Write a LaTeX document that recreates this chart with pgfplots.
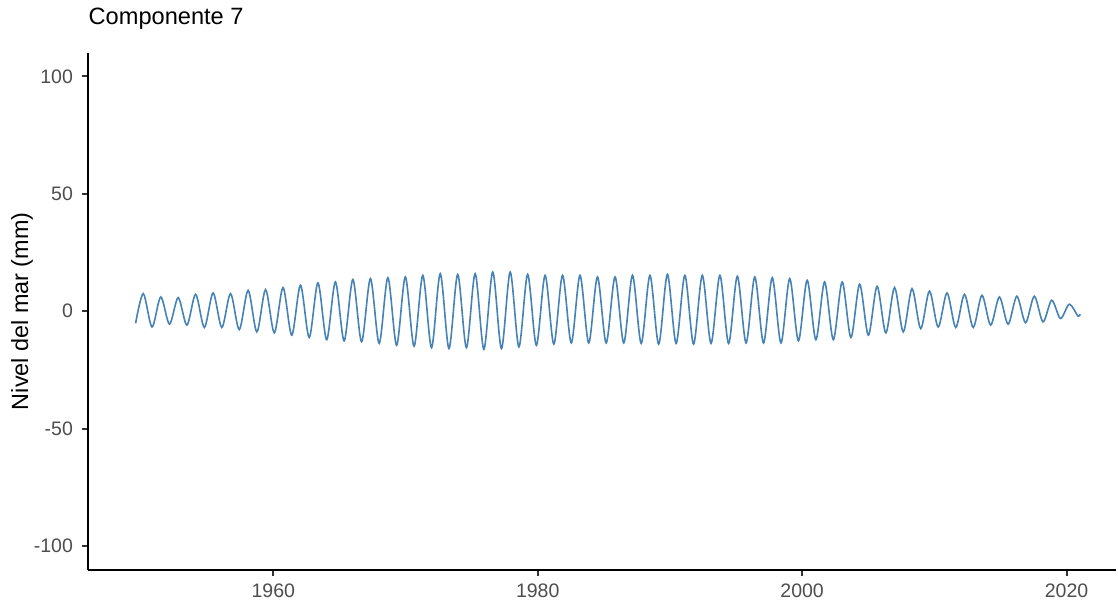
\documentclass[border=0pt]{standalone}
\usepackage{fontspec}
\setmainfont{Liberation Sans}
\usepackage{pgfplots}
\pgfplotsset{compat=1.18}
\definecolor{steel}{HTML}{4682B4}
\definecolor{gray30}{HTML}{4D4D4D}
\definecolor{gray20}{HTML}{333333}

\begin{document}
\begin{tikzpicture}
\useasboundingbox (-44.15pt,-16.25pt) rectangle (514.85pt,284.75pt);
\begin{axis}[
  scale only axis, width=513.85pt, height=258.25pt,
  xmin=1946.01, xmax=2023.74, ymin=-110, ymax=110,
  axis x line*=bottom, axis y line*=left,
  axis line style={-, black, line width=1pt},
  xtick={1960,1980,2000,2020}, ytick={-100,-50,0,50,100},
  tick align=outside, major tick length=3pt,
  tick style={gray20, line width=1pt},
  /pgf/number format/assume math mode=true,
  /pgf/number format/1000 sep={},
  tick label style={font=\fontsize{9.75}{11}\selectfont, text=gray30, inner sep=0pt},
  xticklabel style={anchor=north, yshift=-4pt},
  yticklabel style={anchor=east, xshift=-4.5pt},
  title={Componente 7},
  title style={at={(axis description cs:0,1.0316)}, anchor=base west, inner sep=0pt,
    font=\fontsize{11.8}{13}\selectfont},
  ylabel={Nivel del mar (mm)},
  ylabel style={at={(axis description cs:-0.0585,0.5)}, anchor=base, inner sep=0pt,
    font=\fontsize{11.7}{13}\selectfont},
]
\addplot[steel, line width=0.8pt, smooth] coordinates {
(1949.59,-5.1) (1950.17,7.5) (1950.83,-6.7) (1951.49,6.1) (1952.15,-5.5)
(1952.81,5.8) (1953.47,-5.9) (1954.13,7.2) (1954.79,-6.9) (1955.45,7.8)
(1956.11,-6.9) (1956.77,7.5) (1957.43,-7.8) (1958.10,8.9) (1958.76,-8.8)
(1959.42,9.2) (1960.08,-9.2) (1960.74,10.1) (1961.40,-10.2) (1962.06,11.1)
(1962.72,-11.2) (1963.38,12.1) (1964.04,-12.1) (1964.70,12.5) (1965.36,-12.6)
(1966.02,13.5) (1966.68,-13.0) (1967.35,13.9) (1968.01,-13.7) (1968.67,14.3)
(1969.33,-14.5) (1969.99,14.6) (1970.65,-14.9) (1971.31,15.3) (1971.97,-15.5)
(1972.63,16.0) (1973.29,-15.9) (1973.95,15.7) (1974.61,-15.5) (1975.27,16.0)
(1975.93,-16.2) (1976.60,16.7) (1977.26,-15.9) (1977.92,16.7) (1978.58,-15.2)
(1979.24,15.7) (1979.90,-14.5) (1980.56,15.3) (1981.22,-14.0) (1981.88,15.3)
(1982.54,-13.5) (1983.20,15.3) (1983.86,-13.5) (1984.52,14.6) (1985.18,-13.5)
(1985.85,14.6) (1986.51,-13.5) (1987.17,15.3) (1987.83,-13.7) (1988.49,15.3)
(1989.15,-14.0) (1989.81,15.7) (1990.47,-13.7) (1991.13,15.3) (1991.79,-14.0)
(1992.45,15.3) (1993.11,-13.7) (1993.78,15.3) (1994.44,-13.7) (1995.10,14.9)
(1995.76,-13.5) (1996.42,14.6) (1997.08,-13.5) (1997.74,14.3) (1998.40,-13.5)
(1999.06,13.9) (1999.72,-12.6) (2000.38,13.2) (2001.04,-12.1) (2001.70,12.5)
(2002.36,-12.1) (2003.03,12.5) (2003.69,-11.2) (2004.35,11.5) (2005.01,-10.2)
(2005.67,10.6) (2006.33,-9.2) (2006.99,10.1) (2007.65,-8.8) (2008.31,9.6)
(2008.97,-7.4) (2009.63,8.6) (2010.29,-6.7) (2010.96,7.8) (2011.62,-6.9)
(2012.28,7.2) (2012.94,-6.9) (2013.60,6.8) (2014.26,-5.9) (2014.92,6.1)
(2015.58,-5.5) (2016.24,6.4) (2016.90,-4.9) (2017.56,6.4) (2018.22,-4.5)
(2018.88,4.7) (2019.54,-3.1) (2020.21,3.0) (2020.87,-2.1) (2021.02,-1.2)
};
\end{axis}
\end{tikzpicture}
\end{document}
